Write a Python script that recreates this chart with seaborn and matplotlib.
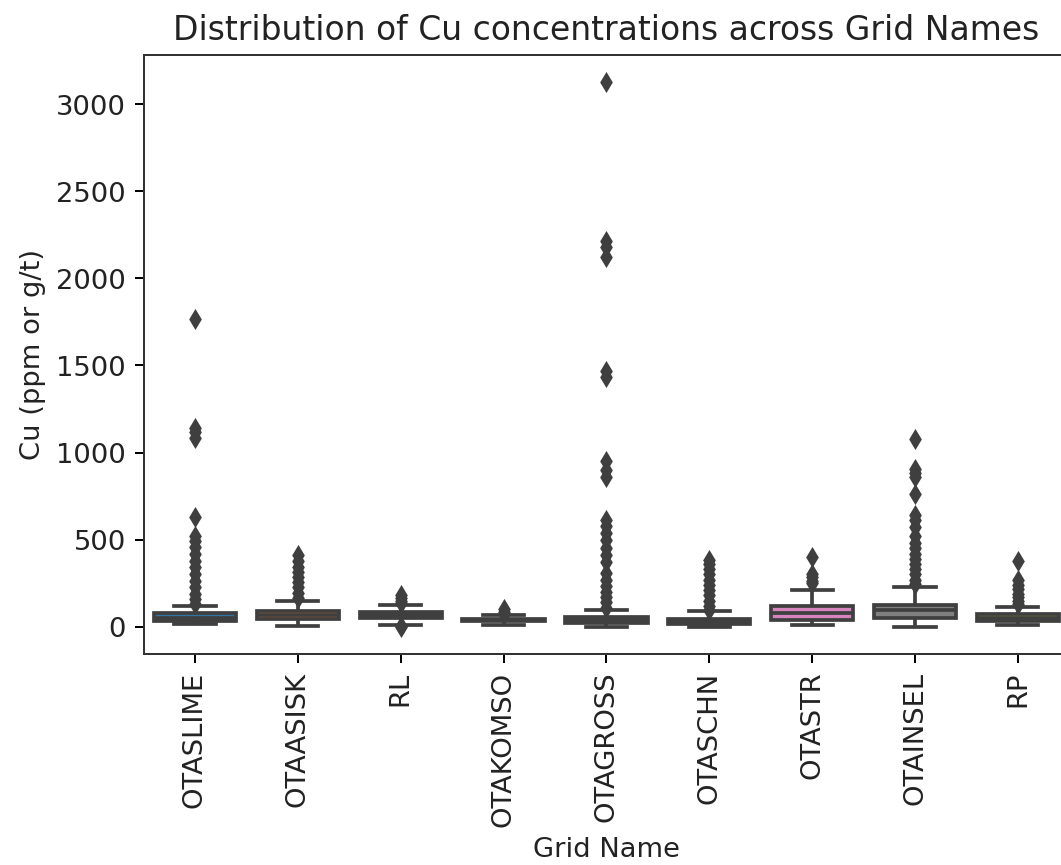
import matplotlib
matplotlib.use("Agg")
import matplotlib.pyplot as plt
import seaborn as sns
import pandas as pd

categories = ["OTASLIME", "OTAASISK", "RL", "OTAKOMSO", "OTAGROSS",
              "OTASCHN", "OTASTR", "OTAINSEL", "RP"]

# five-number summaries
box_lower = [17, 2, 10, 8, 0, 0, 12, 0, 12]
box_q1 = [32, 46, 50, 30, 23, 15, 40, 52, 35]
box_median = [52, 68, 68, 38, 38, 28, 80, 95, 52]
box_q3 = [78, 89, 85, 45, 58, 45, 116, 127, 72]
box_upper = [117, 145, 125, 65, 98, 88, 212, 230, 115]

# outliers
out_otaslime = [130, 160, 190, 225, 260, 300, 340, 380, 420, 455, 490, 520,
                630, 1085, 1120, 1140, 1765]
out_otaasisk = [165, 195, 225, 255, 285, 315, 345, 375, 410]
out_rl = [0, 2, 138, 150, 165, 180]
out_otakomso = [72, 85, 102]
out_otagross = [110, 140, 170, 200, 235, 270, 310, 370, 410, 450, 500, 540,
                580, 615, 860, 900, 950, 1432, 1466, 2122, 2180, 2214, 3128]
out_otaschn = [95, 120, 150, 180, 210, 240, 270, 300, 330, 360, 385]
out_otastr = [250, 265, 285, 305, 400]
out_otainsel = [245, 270, 300, 330, 360, 390, 420, 450, 480, 520, 570, 610,
                640, 760, 860, 885, 905, 1075]
out_rp = [130, 150, 170, 190, 215, 240, 270, 375]

outliers = [out_otaslime, out_otaasisk, out_rl, out_otakomso, out_otagross,
            out_otaschn, out_otastr, out_otainsel, out_rp]

# long-form tables
box_rows = []
for i, c in enumerate(categories):
    for v in (box_lower[i], box_q1[i], box_median[i], box_q3[i], box_upper[i]):
        box_rows.append({"Grid Name": c, "Cu": v})
box_df = pd.DataFrame(box_rows)

out_rows = []
for c, vals in zip(categories, outliers):
    for v in vals:
        out_rows.append({"Grid Name": c, "Cu": v})
out_df = pd.DataFrame(out_rows)

DPI = 179
text_color = "#222222"
plt.rcParams.update({
    "font.size": 11,
    "axes.titlesize": 13.3,
    "axes.labelsize": 11,
    "xtick.labelsize": 11,
    "ytick.labelsize": 11,
    "text.color": text_color,
    "axes.labelcolor": text_color,
    "xtick.labelcolor": text_color,
    "ytick.labelcolor": text_color,
    "axes.edgecolor": "#333333",
})

fig, ax = plt.subplots(figsize=(1061.4 / DPI, 865.4 / DPI), dpi=DPI)
fig.subplots_adjust(left=0.1352, right=1.0075, top=0.9364, bottom=0.2439)

line_gray = "#3f3f3f"
sns.boxplot(data=box_df, x="Grid Name", y="Cu", hue="Grid Name",
            order=categories, hue_order=categories, palette="tab10",
            saturation=0.75, legend=False, whis=(0, 100), showfliers=False,
            linecolor=line_gray, linewidth=1.5, width=0.8, ax=ax)
sns.stripplot(data=out_df, x="Grid Name", y="Cu", order=categories,
              jitter=False, marker="d", color=line_gray, size=6,
              linewidth=0, ax=ax)

ax.set_title("Distribution of Cu concentrations across Grid Names")
ax.set_xlabel("Grid Name", x=0.5, ha="center")
ax.set_ylabel("Cu (ppm or g/t)")
ax.tick_params(axis="x", rotation=90)

fig.savefig("out.png", dpi=DPI)
